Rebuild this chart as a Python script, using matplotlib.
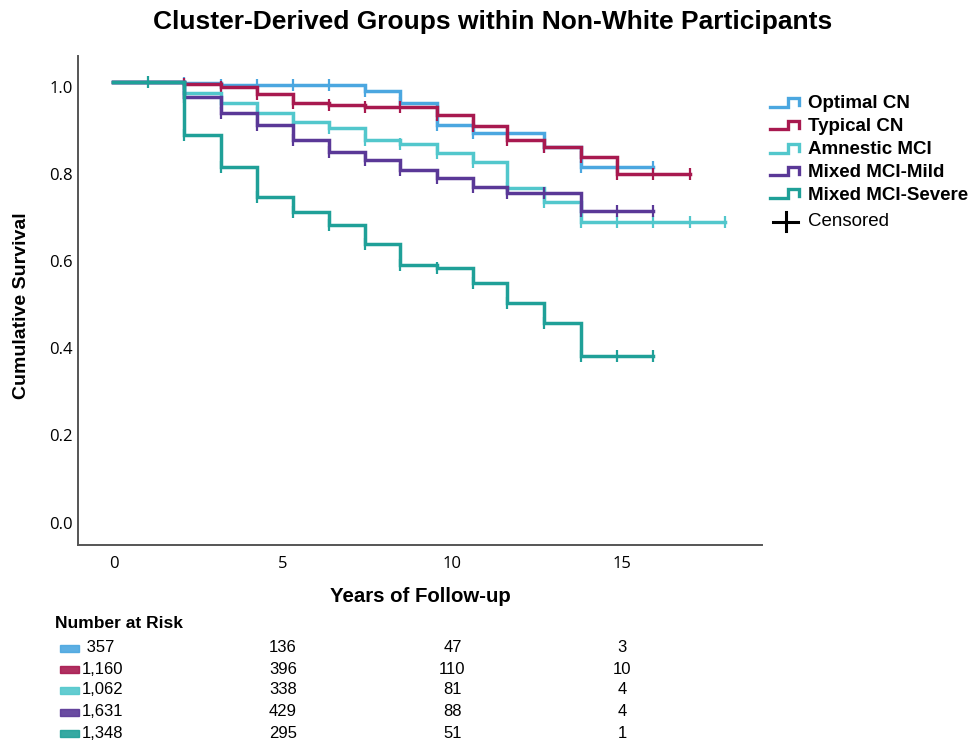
import matplotlib
matplotlib.use('Agg')
import matplotlib.pyplot as plt
from matplotlib.lines import Line2D
from matplotlib.patches import Rectangle
from matplotlib.transforms import ScaledTranslation, blended_transform_factory

# --- data (years, cumulative survival) ---
groups = ['Optimal CN', 'Typical CN', 'Amnestic MCI', 'Mixed MCI-Mild', 'Mixed MCI-Severe']
colors = ['#4ba7e0', '#a8194f', '#52c7cc', '#5a3897', '#1fa098']

optimal_t = [0, 2.08, 3.17, 4.23, 5.29, 6.36, 7.42, 8.45, 9.54, 10.6, 11.62, 12.7, 13.8, 14.85, 15.9]
optimal_s = [1.0, 0.998, 0.993, 0.993, 0.993, 0.993, 0.980, 0.952, 0.901, 0.884, 0.884, 0.850, 0.805, 0.805, 0.805]

typical_t = [0, 2.08, 3.17, 4.23, 5.29, 6.36, 7.42, 8.45, 9.54, 10.6, 11.62, 12.7, 13.8, 14.85, 15.9, 17.0]
typical_s = [1.0, 0.995, 0.988, 0.972, 0.951, 0.947, 0.944, 0.942, 0.924, 0.899, 0.867, 0.850, 0.828, 0.789, 0.789, 0.789]

amnestic_t = [0, 2.08, 3.17, 4.23, 5.29, 6.36, 7.42, 8.45, 9.54, 10.6, 11.62, 12.7, 13.8, 14.85, 15.9, 17.0, 18.04]
amnestic_s = [1.0, 0.974, 0.952, 0.928, 0.909, 0.894, 0.867, 0.858, 0.838, 0.817, 0.756, 0.725, 0.678, 0.678, 0.678, 0.678, 0.678]

mild_t = [0, 2.08, 3.17, 4.23, 5.29, 6.36, 7.42, 8.45, 9.54, 10.6, 11.62, 12.7, 13.8, 14.85, 15.9]
mild_s = [1.0, 0.966, 0.928, 0.901, 0.868, 0.840, 0.822, 0.798, 0.779, 0.760, 0.746, 0.746, 0.704, 0.704, 0.704]

severe_t = [0, 1.02, 2.08, 3.17, 4.23, 5.29, 6.36, 7.42, 8.45, 9.54, 10.6, 11.62, 12.7, 13.8, 14.85, 15.9]
severe_s = [1.0, 1.0, 0.878, 0.804, 0.736, 0.701, 0.672, 0.628, 0.580, 0.573, 0.538, 0.492, 0.447, 0.371, 0.371, 0.371]

series_t = [optimal_t, typical_t, amnestic_t, mild_t, severe_t]
series_s = [optimal_s, typical_s, amnestic_s, mild_s, severe_s]

risk_times = [0, 5, 10, 15]
risk_optimal = [' 357', '136', '47', '3']
risk_typical = ['1,160', '396', '110', '10']
risk_amnestic = ['1,062', '338', '81', '4']
risk_mild = ['1,631', '429', '88', '4']
risk_severe = ['1,348', '295', '51', '1']
risk_rows = [risk_optimal, risk_typical, risk_amnestic, risk_mild, risk_severe]

W, H = 971, 742
fig = plt.figure(figsize=(W / 100, H / 100), dpi=100)
ax = fig.add_axes([78 / W, 1 - 545 / H, (762 - 78) / W, (545 - 56) / H])

for t, s, c in zip(series_t, series_s, colors):
    ax.step(t, s, where='post', color=c, lw=2.5, solid_joinstyle='miter')
    ax.plot(t[1:], s[1:], ls='none', marker='|', ms=9, mew=1.6, color=c)

ax.set_xlim(-1.047, 19.13)
ax.set_ylim(-0.063, 1.060)
ax.set_xticks([0, 5, 10, 15])
ax.set_yticks([0, 0.2, 0.4, 0.6, 0.8, 1.0])
ax.set_yticklabels(['0.0', '0.2', '0.4', '0.6', '0.8', '1.0'])
ax.tick_params(length=0, labelsize=12)
ax.tick_params(axis='x', pad=8)
ax.tick_params(axis='y', pad=4)
for lbl in ax.get_xticklabels() + ax.get_yticklabels():
    lbl.set_family('Open Sans')
# labels in the reference sit a few pixels below the true level
off = ScaledTranslation(0, -5 / 100, fig.dpi_scale_trans)
for lbl in ax.get_yticklabels():
    lbl.set_transform(lbl.get_transform() + off)

for side in ['top', 'right']:
    ax.spines[side].set_visible(False)
for side in ['left', 'bottom']:
    ax.spines[side].set_color('#555555')
    ax.spines[side].set_linewidth(1.4)

fig.text(493 / W, 1 - 22 / H, 'Cluster-Derived Groups within Non-White Participants',
         ha='center', va='center', fontsize=19, fontweight='bold', family='Liberation Sans')
fig.text(22 / W, 1 - 306 / H, 'Cumulative Survival', rotation=90, ha='center', va='center',
         fontsize=14, fontweight='bold', family='Liberation Sans')
fig.text(420 / W, 1 - 596 / H, 'Years of Follow-up', ha='center', va='center',
         fontsize=14.7, fontweight='bold', family='Liberation Sans')

# legend drawn by hand in figure pixels
leg_y = [104, 126.7, 150, 172.7, 195]
for name, c, yc in zip(groups, colors, leg_y):
    xs = [770, 788, 788, 799, 799]
    ys = [yc + 2.7, yc + 2.7, yc - 5.7, yc - 5.7, yc + 1]
    fig.add_artist(Line2D([x / W for x in xs], [1 - y / H for y in ys], color=c, lw=2.4,
                          solid_joinstyle='miter', transform=fig.transFigure))
    fig.text(808 / W, 1 - yc / H, name, ha='left', va='center', fontsize=13.5,
             fontweight='bold', family='Liberation Sans')
yc = 221.7
fig.add_artist(Line2D([773 / W, 798 / W], [1 - yc / H, 1 - yc / H], color='black', lw=2.2,
                      transform=fig.transFigure))
fig.add_artist(Line2D([785.5 / W, 785.5 / W], [1 - (yc - 9.5) / H, 1 - (yc + 9.5) / H],
                      color='black', lw=2.2, transform=fig.transFigure))
fig.text(808 / W, 1 - yc / H, 'Censored', ha='left', va='center', fontsize=13.5,
         family='Liberation Sans')

# number at risk table
narrow = ['Liberation Sans Narrow', 'Liberation Sans']
fig.text(55 / W, 1 - 623 / H, 'Number at Risk', ha='left', va='center', fontsize=12.5,
         fontweight='bold', family=narrow)
tr = blended_transform_factory(ax.transData, fig.transFigure)
row_y = [648, 669, 690, 712, 733]
for row, c, yr in zip(risk_rows, colors, row_y):
    fig.add_artist(Rectangle((60 / W, 1 - (yr + 3.5) / H), 19 / W, 7 / H, color=c,
                             alpha=0.9, transform=fig.transFigure))
    fig.text(82 / W, 1 - yr / H, row[0], ha='left', va='center', fontsize=12, family=narrow)
    for tval, txt in zip(risk_times[1:], row[1:]):
        ax.text(tval, 1 - yr / H, txt, transform=tr, ha='center', va='center',
                fontsize=12, family=narrow, clip_on=False)

fig.savefig('out.png', dpi=100)
